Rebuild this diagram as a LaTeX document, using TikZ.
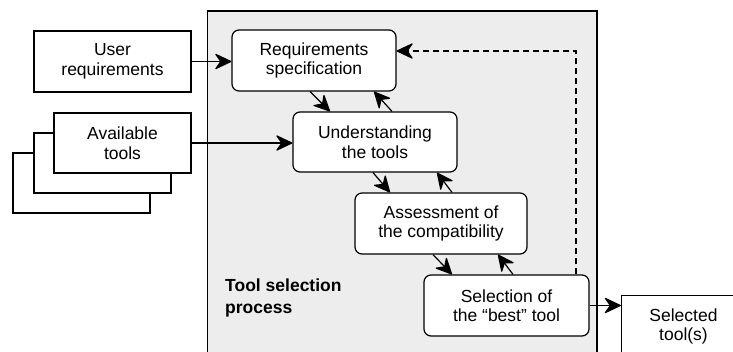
\documentclass[tikz,border=0pt]{standalone}
\usepackage{fontspec}
\setmainfont{Liberation Sans}
\usetikzlibrary{arrows.meta,calc}
\tikzset{
  headtip/.tip={Stealth[length=18pt,width=17pt,inset=6pt,round]},
  arr/.style={line width=1.2pt, -headtip},
  dasharr/.style={line width=1.2pt, -headtip, dash pattern=on 6pt off 4pt},
  stepbox/.style={draw=black, line width=1.2pt, fill=white, rounded corners=7pt},
  plainbox/.style={draw=black, line width=1.2pt, fill=white}
}
\begin{document}
\begin{tikzpicture}[x=1pt,y=-1pt,
  every node/.style={font=\fontsize{17.5}{19.5}\selectfont, align=center, inner sep=0pt}]
\useasboundingbox (0,0) rectangle (733,351);
\begin{scope}
\clip (0,0) rectangle (733,351);
% process container
\draw[line width=1.2pt, fill=black!7] (207.5,11) rectangle (597,362);
% inputs
\node[plainbox, minimum width=157pt, minimum height=61pt] (user) at (112.5,61.5) {User\\requirements};
\node[plainbox, minimum width=137pt, minimum height=60pt] (avail3) at (81.5,183) {};
\node[plainbox, minimum width=137pt, minimum height=60pt] (avail2) at (102.5,163) {};
\node[plainbox, minimum width=137pt, minimum height=60pt] (avail) at (122.5,143) {Available\\tools};
% process steps
\node[stepbox, minimum width=164pt, minimum height=61pt] (req) at (314,60.5) {Requirements\\specification};
\node[stepbox, minimum width=164pt, minimum height=60pt] (under) at (375,142) {Understanding\\the tools};
\node[stepbox, minimum width=172pt, minimum height=61pt] (assess) at (441,223.5) {Assessment of\\the compatibility};
\node[stepbox, minimum width=165pt, minimum height=61pt] (sel) at (506.5,305.5) {Selection of\\the ``best'' tool};
% output
\node[plainbox, minimum width=124pt, minimum height=62pt] (out) at (683.5,326.5) {Selected\\tool(s)};
\node[font=\bfseries\fontsize{17.5}{21.5}\selectfont, align=left, anchor=north west] (label) at (225,279) {Tool selection\\process};
% connectors
\draw[arr] (user.east) -- (req.west |- user.east);
\draw[arr] (avail.east) -- (under.west |- avail.east);
\draw[arr] ([xshift=-4pt]req.south) -- ([xshift=-45pt]under.north);
\draw[arr] ([xshift=17pt]under.north) -- ([xshift=60pt]req.south);
\draw[arr] ([xshift=-2pt]under.south) -- ([xshift=-51pt]assess.north);
\draw[arr] ([xshift=11pt]assess.north) -- ([xshift=62pt]under.south);
\draw[arr] ([xshift=-8pt]assess.south) -- ([xshift=-54.5pt]sel.north);
\draw[arr] ([xshift=6.5pt]sel.north) -- ([xshift=57pt]assess.south);
\draw[dasharr] ([xshift=69.5pt]sel.north) |- ([yshift=9.5pt]req.east);
\draw[arr] (sel.east) -- (out.west |- sel.east);
\end{scope}
\end{tikzpicture}
\end{document}
